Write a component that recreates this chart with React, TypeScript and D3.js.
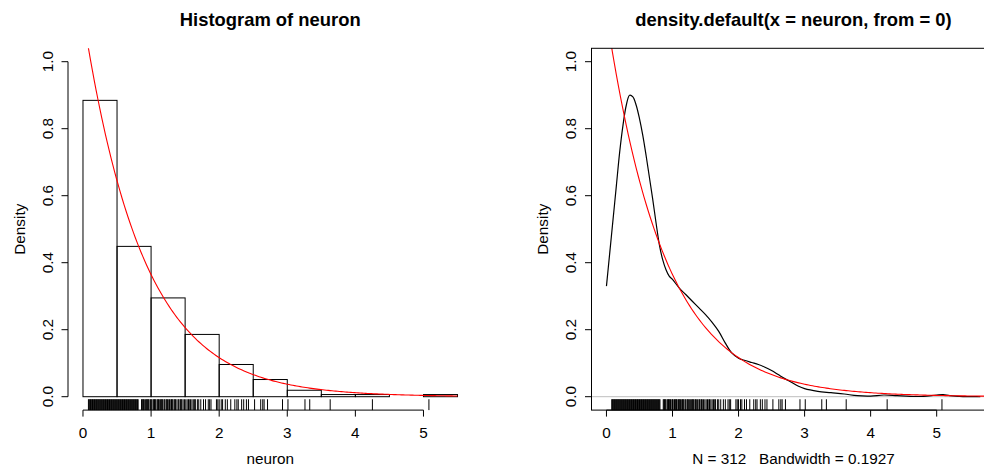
import React from "react";
import * as d3 from "d3";

// ---- data ----
const breaks = [0, 0.5, 1, 1.5, 2, 2.5, 3, 3.5, 4, 4.5, 5, 5.5];
const counts = [138, 70, 46, 29, 15, 8, 3, 1, 1, 0, 1];
const xTicks = [0, 1, 2, 3, 4, 5];
const yTicks = [0, 0.2, 0.4, 0.6, 0.8, 1.0];
const expRate = 1.14;
const bandwidth = 0.1927;

const rugValues = [
  0.08, 0.09, 0.1, 0.11, 0.12, 0.13, 0.14, 0.15, 0.16, 0.17, 0.18, 0.19, 0.2, 0.21, 0.22, 0.23, 0.24,
  0.25, 0.26, 0.27, 0.28, 0.29, 0.3, 0.31, 0.32, 0.33, 0.34, 0.35, 0.36, 0.37, 0.38, 0.39, 0.4, 0.41,
  0.42, 0.43, 0.44, 0.45, 0.46, 0.47, 0.48, 0.49, 0.5, 0.51, 0.52, 0.53, 0.54, 0.55, 0.56, 0.57, 0.58,
  0.59, 0.6, 0.61, 0.62, 0.63, 0.64, 0.65, 0.66, 0.67, 0.68, 0.69, 0.7, 0.71, 0.72, 0.73, 0.74, 0.75,
  0.76, 0.77, 0.78, 0.79, 0.8, 0.81,
  0.86, 0.87, 0.88, 0.89, 0.9, 0.92, 0.93, 0.94, 0.95, 0.96, 0.97, 0.99, 1.0, 1.01, 1.03, 1.04, 1.05,
  1.06, 1.07, 1.09, 1.1, 1.11, 1.12, 1.14, 1.15, 1.16, 1.17, 1.19, 1.2, 1.22, 1.23, 1.24, 1.26, 1.27,
  1.29, 1.3, 1.31, 1.32, 1.34, 1.35, 1.36, 1.38, 1.4, 1.41, 1.43, 1.44, 1.45, 1.47, 1.49, 1.51, 1.53,
  1.55, 1.56, 1.58, 1.6, 1.62, 1.64, 1.65, 1.68, 1.7, 1.73, 1.77, 1.8, 1.84, 1.86, 1.88,
  1.96, 1.98, 2.0, 2.03, 2.05, 2.09, 2.12, 2.17, 2.23, 2.26, 2.28, 2.33, 2.36, 2.4, 2.43, 2.52, 2.61,
  2.64, 2.66, 2.71, 2.93, 3.01, 3.26, 3.33, 3.63, 4.25, 5.08,
];

const densX = [
  0, 0.05, 0.1, 0.15, 0.2, 0.25, 0.3, 0.35, 0.4, 0.45, 0.5, 0.55, 0.6, 0.65, 0.7, 0.75, 0.8, 0.85, 0.9,
  0.95, 1.0, 1.1, 1.2, 1.3, 1.4, 1.5, 1.6, 1.7, 1.8, 1.9, 2.0, 2.1, 2.2, 2.3, 2.4, 2.5, 2.6, 2.7, 2.8,
  2.9, 3.0, 3.2, 3.4, 3.6, 3.8, 4.0, 4.2, 4.4, 4.6, 4.8, 5.0, 5.1, 5.2, 5.4, 5.66,
];
const densY = [
  0.33, 0.43, 0.53, 0.63, 0.73, 0.81, 0.87, 0.9, 0.895, 0.87, 0.83, 0.78, 0.72, 0.655, 0.59, 0.52, 0.455,
  0.41, 0.38, 0.36, 0.35, 0.325, 0.305, 0.285, 0.265, 0.245, 0.222, 0.195, 0.16, 0.13, 0.115, 0.108,
  0.102, 0.096, 0.088, 0.078, 0.066, 0.054, 0.043, 0.032, 0.024, 0.016, 0.012, 0.008, 0.003, 0.002,
  0.005, 0.003, 0.001, 0.001, 0.005, 0.006, 0.003, 0.0005, 0.0,
];

const FONT = "'Liberation Sans', Arial, Helvetica, sans-serif";
const FS = 15.3;
const TFS = 18.4;

const W = 984;
const H = 469;
const plotTop = 48.3;
const plotBottom = 410.1;

const yScale = d3.scaleLinear().domain([-0.04, 1.04]).range([plotBottom, plotTop]);

function Axes({ x, left, right, title, xlab, box }: any) {
  const fmt = d3.format(".1f");
  const cx = (left + right) / 2;
  return (
    <g fontFamily={FONT} fill="#000">
      <text x={cx} y={26} textAnchor="middle" fontSize={TFS} fontWeight="bold">
        {title}
      </text>
      {/* x axis */}
      <line x1={x(xTicks[0])} x2={x(xTicks[xTicks.length - 1])} y1={plotBottom} y2={plotBottom} stroke="#000" strokeWidth={1} />
      {xTicks.map((t) => (
        <g key={"xt" + t}>
          <line x1={x(t)} x2={x(t)} y1={plotBottom} y2={plotBottom + 6.5} stroke="#000" strokeWidth={1} />
          <text x={x(t)} y={437.5} textAnchor="middle" fontSize={FS}>
            {t}
          </text>
        </g>
      ))}
      <text x={cx} y={464} textAnchor="middle" fontSize={FS} style={{ whiteSpace: "pre" }} xmlSpace="preserve">
        {xlab}
      </text>
      {/* y axis */}
      <line x1={left} x2={left} y1={yScale(yTicks[0])} y2={yScale(yTicks[yTicks.length - 1])} stroke="#000" strokeWidth={1} />
      {yTicks.map((t) => (
        <g key={"yt" + t}>
          <line x1={left} x2={left - 6.5} y1={yScale(t)} y2={yScale(t)} stroke="#000" strokeWidth={1} />
          <text transform={`translate(${left - 15.3},${yScale(t)}) rotate(-90)`} textAnchor="middle" fontSize={FS}>
            {fmt(t)}
          </text>
        </g>
      ))}
      <text transform={`translate(${left - 43.5},${(plotTop + plotBottom) / 2}) rotate(-90)`} textAnchor="middle" fontSize={FS}>
        Density
      </text>
      {box && (
        <rect x={left} y={plotTop} width={right - left} height={plotBottom - plotTop} fill="none" stroke="#000" strokeWidth={1} />
      )}
    </g>
  );
}

function Rug({ x }: { x: d3.ScaleLinear<number, number> }) {
  const len = 0.03 * (plotBottom - plotTop);
  return (
    <g>
      {rugValues.map((v, i) => (
        <line key={i} x1={x(v)} x2={x(v)} y1={plotBottom} y2={plotBottom - len} stroke="#000" strokeWidth={1} />
      ))}
    </g>
  );
}

export default function App() {
  const n = d3.sum(counts);
  const binW = breaks[1] - breaks[0];

  // left panel
  const lLeft = 68;
  const lRight = 472.5;
  const xL = d3.scaleLinear().domain([-0.22, 5.72]).range([lLeft, lRight]);

  // right panel
  const rLeft = 591.5;
  const rRight = 995.5;
  const xR = d3.scaleLinear().domain([-0.2266, 5.8906]).range([rLeft, rRight]);

  const expPts = (from: number, to: number) =>
    d3.range(0, 201).map((i) => {
      const xv = from + ((to - from) * i) / 200;
      return [xv, expRate * Math.exp(-expRate * xv)] as [number, number];
    });

  const lineL = d3
    .line<[number, number]>()
    .x((d) => xL(d[0]))
    .y((d) => yScale(d[1]));
  const lineR = d3
    .line<[number, number]>()
    .x((d) => xR(d[0]))
    .y((d) => yScale(d[1]));
  const densLine = d3
    .line<number>()
    .x((_, i) => xR(densX[i]))
    .y((d) => yScale(d))
    .curve(d3.curveCatmullRom.alpha(0.5));

  return (
    <svg width={W} height={H} style={{ position: "absolute", left: 0, top: 0, background: "#fff" }}>
      <defs>
        <clipPath id="clipL">
          <rect x={lLeft} y={plotTop} width={lRight - lLeft} height={plotBottom - plotTop} />
        </clipPath>
        <clipPath id="clipR">
          <rect x={rLeft} y={plotTop} width={rRight - rLeft} height={plotBottom - plotTop} />
        </clipPath>
      </defs>
      <rect x={0} y={0} width={W} height={H} fill="#fff" />

      {/* ---- Left: histogram ---- */}
      <g>
        {counts.map((c, i) => {
          const d = c / (n * binW);
          const x0 = xL(breaks[i]);
          const x1 = xL(breaks[i + 1]);
          const y0 = yScale(d);
          return (
            <rect key={i} x={x0} y={y0} width={x1 - x0} height={yScale(0) - y0} fill="none" stroke="#000" strokeWidth={1} />
          );
        })}
        <path d={lineL(expPts(0, 5.5)) || ""} fill="none" stroke="#ff0000" strokeWidth={1.1} clipPath="url(#clipL)" />
        <Rug x={xL} />
        <Axes x={xL} left={lLeft} right={lRight} title="Histogram of neuron" xlab="neuron" box={false} />
      </g>

      {/* ---- Right: density ---- */}
      <g>
        <line x1={rLeft} x2={rRight} y1={yScale(0)} y2={yScale(0)} stroke="#bebebe" strokeWidth={1} />
        <path d={densLine(densY) || ""} fill="none" stroke="#000" strokeWidth={1.2} clipPath="url(#clipR)" />
        <path d={lineR(expPts(0, 6)) || ""} fill="none" stroke="#ff0000" strokeWidth={1.1} clipPath="url(#clipR)" />
        <Rug x={xR} />
        <Axes
          x={xR}
          left={rLeft}
          right={rRight}
          title="density.default(x = neuron, from = 0)"
          xlab={`N = ${n}   Bandwidth = ${bandwidth}`}
          box={true}
        />
      </g>
    </svg>
  );
}
